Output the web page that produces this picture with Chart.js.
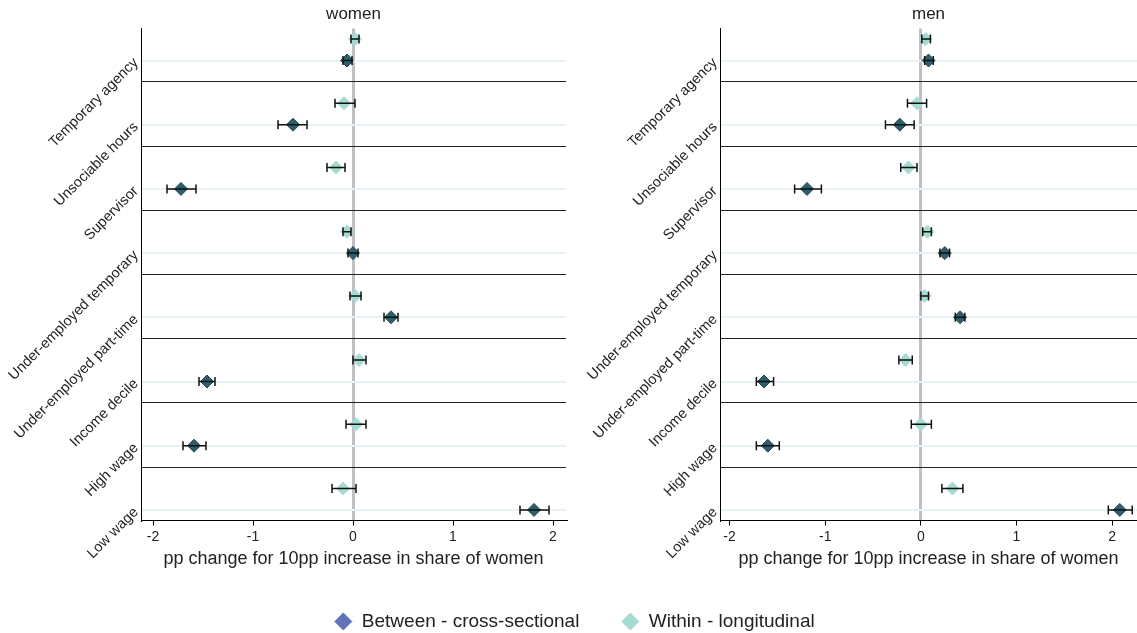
<!DOCTYPE html>
<html>
<head>
<meta charset="utf-8">
<script src="https://cdn.jsdelivr.net/npm/chart.js@4.4.0/dist/chart.umd.min.js"></script>
<style>
  html, body { margin: 0; background: #fff; overflow: hidden; }
  body { width: 1137px; height: 633px; position: relative; }
  .box { position: absolute; }
</style>
</head>
<body>
<div class="box" style="left:0;top:0;width:568px;height:570px"><canvas id="women"></canvas></div>
<div class="box" style="left:568px;top:0;width:569px;height:570px"><canvas id="men"></canvas></div>
<div class="box" style="left:0;top:570px;width:1137px;height:220px"><canvas id="legend"></canvas></div>
<script>
const categories = ['Temporary agency', 'Unsociable hours', 'Supervisor', 'Under-employed temporary',
  'Under-employed part-time', 'Income decile', 'High wage', 'Low wage'];
const xTicks = [-2, -1, 0, 1, 2];

// women panel
const womenCross   = [-0.06, -0.60, -1.72,  0.00, 0.38, -1.46, -1.59, 1.81];
const womenCrossLo = [-0.10, -0.75, -1.86, -0.05, 0.31, -1.54, -1.70, 1.67];
const womenCrossHi = [-0.01, -0.46, -1.57,  0.05, 0.45, -1.38, -1.47, 1.96];
const womenLong    = [ 0.02, -0.09, -0.17, -0.06, 0.02,  0.06,  0.03, -0.10];
const womenLongLo  = [-0.02, -0.18, -0.26, -0.10, -0.03, 0.00, -0.07, -0.21];
const womenLongHi  = [ 0.06,  0.02, -0.08, -0.02, 0.08,  0.13,  0.13,  0.03];

// men panel
const menCross   = [0.08, -0.22, -1.19, 0.25, 0.41, -1.64, -1.60, 2.08];
const menCrossLo = [0.04, -0.37, -1.32, 0.20, 0.36, -1.72, -1.72, 1.96];
const menCrossHi = [0.13, -0.07, -1.04, 0.30, 0.46, -1.54, -1.48, 2.21];
const menLong    = [0.05, -0.04, -0.13, 0.07, 0.04, -0.16,  0.00, 0.33];
const menLongLo  = [0.01, -0.14, -0.21, 0.02, 0.00, -0.23, -0.10, 0.22];
const menLongHi  = [0.10,  0.06, -0.04, 0.11, 0.08, -0.09,  0.11, 0.44];

const FONT = "'Liberation Sans', Arial, sans-serif";
const TEXT = '#222';
const CROSS_COLOR = '#2c5f6b';
const LONG_COLOR = '#a4dcd2';
const LEGEND_CROSS = '#6272b9';

// each category gets 3 slots: longitudinal row, cross-sectional row, separator
const rowTicks = Array.from({ length: categories.length * 3 - 1 }, (_, k) => k + 1);

const errorBars = {
  id: 'errorBars',
  afterDatasetsDraw(chart) {
    const { ctx, scales: { x, y } } = chart;
    ctx.save();
    ctx.strokeStyle = '#111';
    ctx.lineWidth = 1.5;
    chart.data.datasets.forEach(ds => {
      if (!ds.lo) return;
      ds.data.forEach((p, i) => {
        const x0 = x.getPixelForValue(ds.lo[i]);
        const x1 = x.getPixelForValue(ds.hi[i]);
        const py = y.getPixelForValue(p.y);
        ctx.beginPath();
        ctx.moveTo(x0, py); ctx.lineTo(x1, py);
        ctx.moveTo(x0, py - 4.5); ctx.lineTo(x0, py + 4.5);
        ctx.moveTo(x1, py - 4.5); ctx.lineTo(x1, py + 4.5);
        ctx.stroke();
      });
    });
    ctx.restore();
  }
};

function makePanel(id, title, cross, crossLo, crossHi, long, longLo, longHi, xMin, xMax, axisWidth, padRight) {
  new Chart(document.getElementById(id), {
    type: 'scatter',
    data: {
      datasets: [
        {
          label: 'Within - longitudinal',
          data: long.map((v, i) => ({ x: v, y: i * 3 + 1 })),
          lo: longLo, hi: longHi,
          backgroundColor: LONG_COLOR, borderColor: LONG_COLOR,
          pointStyle: 'rectRot', pointRadius: 6.5, borderWidth: 1
        },
        {
          label: 'Between - cross-sectional',
          data: cross.map((v, i) => ({ x: v, y: i * 3 + 2 })),
          lo: crossLo, hi: crossHi,
          backgroundColor: CROSS_COLOR, borderColor: '#1f4a55',
          pointStyle: 'rectRot', pointRadius: 6.5, borderWidth: 1
        }
      ]
    },
    options: {
      responsive: true,
      maintainAspectRatio: false,
      animation: false,
      layout: { autoPadding: false, padding: { left: 0, right: padRight, top: 0, bottom: 0 } },
      plugins: { legend: { display: false }, tooltip: { enabled: false } },
      scales: {
        x: {
          type: 'linear', min: xMin, max: xMax,
          afterBuildTicks: s => { s.ticks = xTicks.map(v => ({ value: v })); },
          afterFit: s => { s.paddingLeft = 0; s.paddingRight = 0; },
          grid: {
            color: c => c.tick && c.tick.value === 0 ? '#bfbfc5' : 'rgba(0,0,0,0)',
            lineWidth: 3,
            tickColor: '#000', tickWidth: 1, tickLength: 5
          },
          border: { display: true, color: '#000', width: 1 },
          ticks: { color: TEXT, font: { family: FONT, size: 14 }, padding: 3 },
          title: {
            display: true, text: 'pp change for 10pp increase in share of women',
            color: TEXT, font: { family: FONT, size: 18 }, padding: { top: 0, bottom: 0 }
          }
        },
        top: {
          type: 'linear', position: 'top', min: xMin, max: xMax,
          grid: { display: false, drawTicks: false },
          border: { display: false },
          ticks: { display: false },
          afterFit: s => { s.paddingLeft = 0; s.paddingRight = 0; },
          title: { display: true, text: title, color: TEXT, font: { family: FONT, size: 17 }, padding: { top: 4, bottom: 4 } }
        },
        y: {
          type: 'linear', min: 0.5, max: categories.length * 3 - 0.5, reverse: true,
          afterBuildTicks: s => { s.ticks = rowTicks.map(v => ({ value: v })); },
          afterFit: s => { s.width = axisWidth; },
          grid: {
            drawTicks: false,
            color: c => !c.tick ? 'rgba(0,0,0,0)' : (c.tick.value % 3 === 0 ? '#222' :
              ((c.tick.value - 2) % 3 === 0 ? '#e8f2f4' : 'rgba(0,0,0,0)')),
            lineWidth: c => c.tick && c.tick.value % 3 === 0 ? 1 : 2
          },
          border: { display: true, color: '#000', width: 1 },
          ticks: {
            autoSkip: false, minRotation: 45, maxRotation: 45, padding: 5,
            color: TEXT, font: { family: FONT, size: 14.5 },
            callback: v => ((v - 2) % 3 === 0 ? categories[(v - 2) / 3] : '')
          }
        }
      }
    },
    plugins: [errorBars]
  });
}

makePanel('women', 'women', womenCross, womenCrossLo, womenCrossHi, womenLong, womenLongLo, womenLongHi, -2.12, 2.13, 141, 2);
makePanel('men', 'men', menCross, menCrossLo, menCrossHi, menLong, menLongLo, menLongHi, -2.10, 2.26, 152, 0);

new Chart(document.getElementById('legend'), {
  type: 'scatter',
  data: {
    datasets: [
      { label: 'Between - cross-sectional', data: [], backgroundColor: LEGEND_CROSS, borderColor: LEGEND_CROSS, pointStyle: 'rectRot' },
      { label: 'Within - longitudinal', data: [], backgroundColor: LONG_COLOR, borderColor: LONG_COLOR, pointStyle: 'rectRot' }
    ]
  },
  options: {
    responsive: true,
    maintainAspectRatio: false,
    animation: false,
    layout: { padding: { left: 12 } },
    scales: { x: { display: false }, y: { display: false } },
    plugins: {
      tooltip: { enabled: false },
      legend: {
        position: 'top',
        labels: {
          usePointStyle: true, boxWidth: 18, boxHeight: 12, padding: 42,
          color: TEXT, font: { family: FONT, size: 19 }
        }
      }
    }
  }
});
</script>
</body>
</html>
